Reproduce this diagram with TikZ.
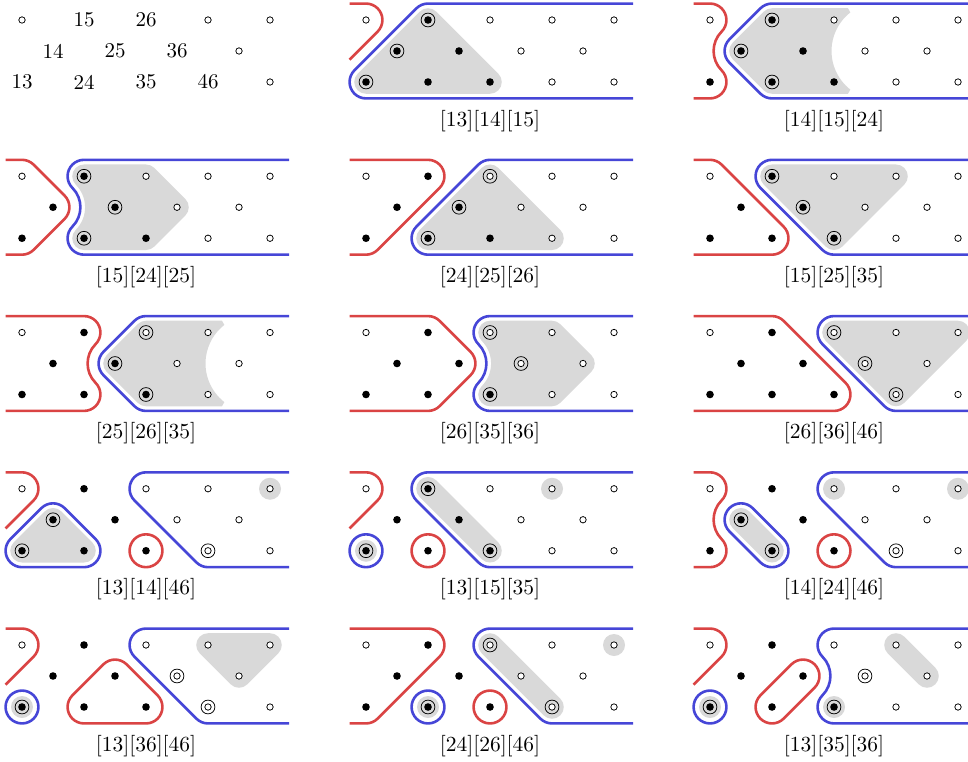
\documentclass[tikz,border=0pt]{standalone}
\usepackage{fontspec}
\setmainfont{lmroman10-regular.otf}
\usetikzlibrary{calc}
\definecolor{cred}{RGB}{218,68,68}
\definecolor{cblue}{RGB}{70,70,215}
\definecolor{cgray}{RGB}{217,217,217}
\def\od{0.53}
\def\og{0.38}
\def\rc{0.884}
\def\rg{1.034}
\def\Le{-0.53}
\def\Ri{8.62}
\tikzset{
  gry/.style={fill=cgray},
  bl/.style={draw=cblue,line width=2.6pt},
  rl/.style={draw=cred,line width=2.6pt},
  pto/.style={draw=black,line width=0.75pt,fill=white},
  ring/.style={draw=black,line width=0.75pt},
  lab/.style={anchor=base,font=\fontsize{21.5}{25}\selectfont,inner sep=0pt},
  num/.style={font=\fontsize{21}{25}\selectfont,inner sep=0pt}
}
\newcommand\pF[4]{($(#1)+(#2:#4)$) arc[start angle=#2,end angle=#3,radius=#4]}
\newcommand\pA[4]{-- ($(#1)+(#2:#4)$) arc[start angle=#2,end angle=#3,radius=#4]}
% open outlines
\newcommand\RedTL{\draw[rl] (\Le,\od) -- (0,\od) arc[start angle=90,end angle=-45,radius=\od] -- (\Le,-1.28);}
\newcommand\RedC[1]{\draw[rl] (\Le,\od) -- (#1,\od) arc[start angle=90,end angle=-45,radius=\od] arc[start angle=135,end angle=225,radius=\rc] arc[start angle=45,end angle=-90,radius=\od] -- (\Le,-2-\od);}
\newcommand\RedDL[1]{\draw[rl] (\Le,\od) -- (#1,\od) arc[start angle=90,end angle=-45,radius=\od] \pA{#1-2,-2}{-45}{-90}{\od} -- (\Le,-2-\od);}
\newcommand\RedDR[1]{\draw[rl] (\Le,\od) -- (#1,\od) arc[start angle=90,end angle=45,radius=\od] \pA{#1+2,-2}{45}{-90}{\od} -- (\Le,-2-\od);}
\newcommand\RedV[1]{\draw[rl] (\Le,\od) -- (#1,\od) arc[start angle=90,end angle=45,radius=\od] \pA{#1+1,-1}{45}{-45}{\od} \pA{#1,-2}{-45}{-90}{\od} -- (\Le,-2-\od);}
\newcommand\BlueDL[1]{\draw[bl] (\Ri,\od) -- (#1,\od) arc[start angle=90,end angle=135,radius=\od] \pA{#1-2,-2}{135}{270}{\od} -- (\Ri,-2-\od);}
\newcommand\BlueDR[1]{\draw[bl] (\Ri,\od) -- (#1,\od) arc[start angle=90,end angle=225,radius=\od] \pA{#1+2,-2}{225}{270}{\od} -- (\Ri,-2-\od);}
\newcommand\BlueV[1]{\draw[bl] (\Ri,\od) -- (#1,\od) arc[start angle=90,end angle=135,radius=\od] \pA{#1-1,-1}{135}{225}{\od} \pA{#1,-2}{225}{270}{\od} -- (\Ri,-2-\od);}
\newcommand\BlueC[1]{\draw[bl] (\Ri,\od) -- (#1,\od) arc[start angle=90,end angle=225,radius=\od] arc[start angle=45,end angle=-45,radius=\rc] arc[start angle=135,end angle=270,radius=\od] -- (\Ri,-2-\od);}
% closed shapes
\newcommand\TriU[3]{\path[#3] \pF{#1,-2}{135}{270}{#2} \pA{#1+2,-2}{270}{405}{#2} \pA{#1+1,-1}{45}{135}{#2} -- cycle;}
\newcommand\TriUB[1]{\fill[gry] \pF{#1,-2}{135}{270}{\og} \pA{#1+4,-2}{270}{405}{\og} \pA{#1+2,0}{45}{135}{\og} -- cycle;}
\newcommand\TriDB[1]{\fill[gry] \pF{#1+2,-2}{225}{315}{\og} \pA{#1+4,0}{315}{450}{\og} \pA{#1,0}{90}{225}{\og} -- cycle;}
\newcommand\TriDS[1]{\fill[gry] \pF{#1+1,-1}{225}{315}{\og} \pA{#1+2,0}{315}{450}{\og} \pA{#1,0}{90}{225}{\og} -- cycle;}
\newcommand\CapDR[4]{\path[#4] \pF{#2}{-135}{45}{#3} \pA{#1}{45}{225}{#3} -- cycle;}
\newcommand\CapUR[4]{\path[#4] \pF{#2}{-45}{135}{#3} \pA{#1}{135}{315}{#3} -- cycle;}
\newcommand\GrayN[1]{\fill[gry] \pF{#1+1,-1}{135}{225}{\og} \pA{#1+2,-2}{225}{270}{\og} -- (#1+4.45,-2-\og) -- (#1+4.527,-2.245) arc[start angle=232,end angle=128,radius=1.58] -- (#1+4.45,\og) \pA{#1+2,0}{90}{135}{\og} -- cycle;}
\newcommand\GrayC[1]{\fill[gry] \pF{#1+2,0}{90}{225}{\og} arc[start angle=45,end angle=-45,radius=\rg] arc[start angle=135,end angle=270,radius=\og] \pA{#1+4,-2}{270}{315}{\og} \pA{#1+5,-1}{315}{405}{\og} \pA{#1+4,0}{45}{90}{\og} -- cycle;}
\newcommand\gd[1]{\fill[gry] (#1) circle[radius=11pt];}
\newcommand\bc[1]{\draw[bl] (#1) circle[radius=\od];}
\newcommand\rcirc[1]{\draw[rl] (#1) circle[radius=\od];}
% markers
\newcommand\mko[1]{\draw[pto] (#1) circle[radius=3.2pt];}
\newcommand\mkf[1]{\fill (#1) circle[radius=3.8pt];}
\newcommand\mkF[1]{\fill (#1) circle[radius=3.8pt]; \draw[ring] (#1) circle[radius=6.9pt];}
\newcommand\mkO[1]{\draw[pto] (#1) circle[radius=3.2pt]; \draw[ring] (#1) circle[radius=6.9pt];}
\newcommand\mk[2]{\csname mk#1\endcsname{#2}}
\newcommand\pts[3]{%
  \foreach \mm [count=\ii from 0] in {#1} {\mk{\mm}{2*\ii,0}}%
  \foreach \mm [count=\ii from 0] in {#2} {\mk{\mm}{2*\ii+1,-1}}%
  \foreach \mm [count=\ii from 0] in {#3} {\mk{\mm}{2*\ii,-2}}}
\begin{document}
\begin{tikzpicture}[x=31pt,y=31pt]
\useasboundingbox (0pt,0pt) rectangle (968pt,-762pt);
\clip (0pt,0pt) rectangle (968pt,-762pt);
% Panel 1
\begin{scope}[shift={(22pt,-20pt)}]
  \mko{0,0} \mko{6,0} \mko{8,0} \mko{7,-1} \mko{8,-2}
  \node[num] (n15) at (2,0) {15};
  \node[num] (n26) at (4,0) {26};
  \node[num] (n14) at (1,-1) {14};
  \node[num] (n25) at (3,-1) {25};
  \node[num] (n36) at (5,-1) {36};
  \node[num] (n13) at (0,-2) {13};
  \node[num] (n24) at (2,-2) {24};
  \node[num] (n35) at (4,-2) {35};
  \node[num] (n46) at (6,-2) {46};
\end{scope}
% Panel 2
\begin{scope}[shift={(366pt,-20pt)}]
  \TriUB{0} \RedTL \BlueDL{2}
  \pts{o,F,o,o,o}{F,f,o,o}{F,f,f,o,o}
  \node[lab] (l2) at (4,-3.42) {[13][14][15]};
\end{scope}
% Panel 3
\begin{scope}[shift={(710pt,-20pt)}]
  \GrayN{0} \RedC{0} \BlueV{2}
  \pts{o,F,o,o,o}{F,f,o,o}{f,F,f,o,o}
  \node[lab] (l3) at (4,-3.42) {[14][15][24]};
\end{scope}
% Panel 4
\begin{scope}[shift={(22pt,-176.25pt)}]
  \GrayC{0} \RedV{0} \BlueC{2}
  \pts{o,F,o,o,o}{f,F,o,o}{f,F,f,o,o}
  \node[lab] (l4) at (4,-3.42) {[15][24][25]};
\end{scope}
% Panel 5
\begin{scope}[shift={(366pt,-176.25pt)}]
  \TriUB{2} \RedDL{2} \BlueDL{4}
  \pts{o,f,O,o,o}{f,F,o,o}{f,F,f,o,o}
  \node[lab] (l5) at (4,-3.42) {[24][25][26]};
\end{scope}
% Panel 6
\begin{scope}[shift={(710pt,-176.25pt)}]
  \TriDB{2} \RedDR{0} \BlueDR{2}
  \pts{o,F,o,o,o}{f,F,o,o}{f,f,F,o,o}
  \node[lab] (l6) at (4,-3.42) {[15][25][35]};
\end{scope}
% Panel 7
\begin{scope}[shift={(22pt,-332.5pt)}]
  \GrayN{2} \RedC{2} \BlueV{4}
  \pts{o,f,O,o,o}{f,F,o,o}{f,f,F,o,o}
  \node[lab] (l7) at (4,-3.42) {[25][26][35]};
\end{scope}
% Panel 8
\begin{scope}[shift={(366pt,-332.5pt)}]
  \GrayC{2} \RedV{2} \BlueC{4}
  \pts{o,f,O,o,o}{f,f,O,o}{f,f,F,o,o}
  \node[lab] (l8) at (4,-3.42) {[26][35][36]};
\end{scope}
% Panel 9
\begin{scope}[shift={(710pt,-332.5pt)}]
  \TriDB{4} \RedDR{2} \BlueDR{4}
  \pts{o,f,O,o,o}{f,f,O,o}{f,f,f,O,o}
  \node[lab] (l9) at (4,-3.42) {[26][36][46]};
\end{scope}
% Panel 10
\begin{scope}[shift={(22pt,-488.75pt)}]
  \TriU{0}{\og}{gry} \gd{8,0}
  \RedTL \TriU{0}{\od}{bl} \rcirc{4,-2} \BlueDR{4}
  \pts{o,f,o,o,o}{F,f,o,o}{F,f,f,O,o}
  \node[lab] (l10) at (4,-3.42) {[13][14][46]};
\end{scope}
% Panel 11
\begin{scope}[shift={(366pt,-488.75pt)}]
  \CapDR{2,0}{4,-2}{\og}{gry} \gd{6,0} \gd{0,-2}
  \RedTL \bc{0,-2} \rcirc{2,-2} \BlueDR{2}
  \pts{o,F,o,o,o}{f,f,o,o}{F,f,F,o,o}
  \node[lab] (l11) at (4,-3.42) {[13][15][35]};
\end{scope}
% Panel 12
\begin{scope}[shift={(710pt,-488.75pt)}]
  \CapDR{1,-1}{2,-2}{\og}{gry} \gd{4,0} \gd{8,0}
  \RedC{0} \CapDR{1,-1}{2,-2}{\od}{bl} \rcirc{4,-2} \BlueDR{4}
  \pts{o,f,o,o,o}{F,f,o,o}{f,F,f,O,o}
  \node[lab] (l12) at (4,-3.42) {[14][24][46]};
\end{scope}
% Panel 13
\begin{scope}[shift={(22pt,-645pt)}]
  \TriDS{6} \gd{0,-2}
  \RedTL \bc{0,-2} \TriU{2}{\od}{rl} \BlueDR{4}
  \pts{o,f,o,o,o}{f,f,O,o}{F,f,f,O,o}
  \node[lab] (l13) at (4,-3.42) {[13][36][46]};
\end{scope}
% Panel 14
\begin{scope}[shift={(366pt,-645pt)}]
  \CapDR{4,0}{6,-2}{\og}{gry} \gd{8,0} \gd{2,-2}
  \RedDL{2} \bc{2,-2} \rcirc{4,-2} \BlueDR{4}
  \pts{o,f,O,o,o}{f,f,o,o}{f,F,f,O,o}
  \node[lab] (l14) at (4,-3.42) {[24][26][46]};
\end{scope}
% Panel 15
\begin{scope}[shift={(710pt,-645pt)}]
  \CapDR{6,0}{7,-1}{\og}{gry} \gd{0,-2} \gd{4,-2}
  \RedTL \bc{0,-2} \CapUR{2,-2}{3,-1}{\od}{rl} \BlueC{4}
  \pts{o,f,o,o,o}{f,f,O,o}{F,f,F,o,o}
  \node[lab] (l15) at (4,-3.42) {[13][35][36]};
\end{scope}
\end{tikzpicture}
\end{document}
